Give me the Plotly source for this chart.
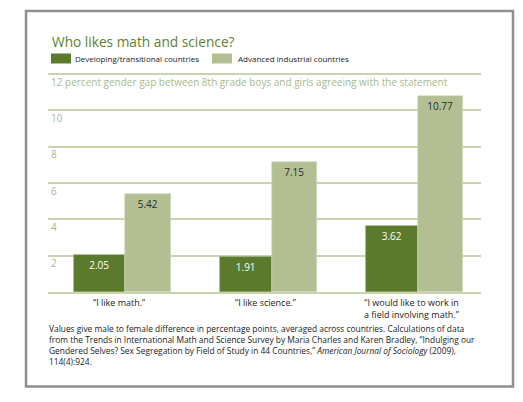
import plotly.graph_objects as go

# Survey statements and gender gap (male minus female, percentage points)
statements = ["\u201cI like math.\u201d", "\u201cI like science.\u201d",
              "\u201cI would like to work in<br>a field involving math.\u201d"]
developing = [2.05, 1.91, 3.62]
advanced = [5.42, 7.15, 10.77]
series_names = ["Developing/transitional countries", "Advanced industrial countries"]
y_ticks = [2, 4, 6, 8, 10, 12]
y_ticktext = ["2", "4", "6", "8", "10",
              "12 percent gender gap between 8th grade boys and girls agreeing with the statement"]

W, H = 523, 402
L, R, T, B = 48, 42, 73, 110
PW, PH = W - L - R, H - T - B

DARK = "#5b7a2c"
LIGHT = "#b3bf93"
GRID = "#c9d3b0"
TICK = "#a9b98c"
TITLE = "#5d8232"
FONT = "Open Sans"


def fx(px):
    return (px - L) / PW


def fy(py):
    return (H - B - py) / PH


xs = list(range(len(statements)))

fig = go.Figure()
fig.add_trace(go.Bar(
    x=xs, y=developing, name=series_names[0],
    width=0.352, offset=-0.352,
    marker=dict(color=DARK, line=dict(color="#8da06a", width=0.6)),
    texttemplate="%{y:.2f}", textposition="inside", insidetextanchor="end",
    textangle=0, textfont=dict(color="white", size=10, family=FONT),
    showlegend=False,
))
fig.add_trace(go.Bar(
    x=xs, y=advanced, name=series_names[1],
    width=0.31, offset=0,
    marker=dict(color=LIGHT, line=dict(color="#d3dbbd", width=0.6)),
    texttemplate="%{y:.2f}", textposition="inside", insidetextanchor="end",
    textangle=0, textfont=dict(color="#2b2b2b", size=10, family=FONT),
    showlegend=False,
))

annotations = []
# Category labels under each pair of bars
for i, s in enumerate(statements):
    annotations.append(dict(
        x=i - 0.04, y=fy(294), xref="x", yref="paper", text=s, showarrow=False,
        xanchor="center", yanchor="top", align="right",
        font=dict(size=9, color="#222222", family=FONT)))

# Title and legend
annotations.append(dict(
    x=fx(50), y=fy(42), xref="paper", yref="paper", text="Who likes math and science?",
    showarrow=False, xanchor="left", yanchor="middle",
    font=dict(size=13.7, color=TITLE, family=FONT)))
annotations.append(dict(
    x=fx(73), y=fy(58.5), xref="paper", yref="paper", text=series_names[0],
    showarrow=False, xanchor="left", yanchor="middle",
    font=dict(size=8, color="#222222", family=FONT)))
annotations.append(dict(
    x=fx(236), y=fy(58.5), xref="paper", yref="paper", text=series_names[1],
    showarrow=False, xanchor="left", yanchor="middle",
    font=dict(size=8, color="#222222", family=FONT)))

# Source note
note = ("Values give male to female difference in percentage points, averaged across countries. Calculations of data<br>"
        "from the Trends in International Math and Science Survey by Maria Charles and Karen Bradley, \u201cIndulging our<br>"
        "Gendered Selves? Sex Segregation by Field of Study in 44 Countries,\u201d <i>American Journal of Sociology</i> (2009),<br>"
        "114(4):924.")
annotations.append(dict(
    x=fx(47), y=fy(320.5), xref="paper", yref="paper", text=note,
    showarrow=False, xanchor="left", yanchor="top", align="left",
    font=dict(size=8.4, color="#222222", family=FONT)))

shapes = [
    # panel frame
    dict(type="rect", xref="paper", yref="paper",
         x0=fx(26), x1=fx(513), y0=fy(11), y1=fy(386.5),
         line=dict(color="#8f8f8f", width=2.5), fillcolor="rgba(0,0,0,0)", layer="below"),
    # legend swatches
    dict(type="rect", xref="paper", yref="paper",
         x0=fx(51), x1=fx(71), y0=fy(53.5), y1=fy(63.5),
         line=dict(width=0), fillcolor=DARK),
    dict(type="rect", xref="paper", yref="paper",
         x0=fx(212), x1=fx(232), y0=fy(53.5), y1=fy(63.5),
         line=dict(width=0), fillcolor=LIGHT),
]

fig.update_layout(
    width=W, height=H,
    margin=dict(l=L, r=R, t=T, b=B),
    paper_bgcolor="white", plot_bgcolor="white",
    barmode="overlay", bargap=0,
    font=dict(family=FONT),
    annotations=annotations, shapes=shapes,
    xaxis=dict(range=[-0.529, 2.433], showticklabels=False, showgrid=False,
               zeroline=False, showline=True, linecolor=GRID, linewidth=1.5,
               fixedrange=True),
    yaxis=dict(range=[0, 12.06], tickvals=y_ticks, ticktext=y_ticktext,
               ticklabelposition="inside", ticklabelshift=8, ticklabelstandoff=0,
               tickfont=dict(size=10, color=TICK, family=FONT),
               showgrid=True, gridcolor=GRID, gridwidth=1.5,
               zeroline=False, showline=False, ticks="", fixedrange=True),
)

fig.write_html("out.html")
